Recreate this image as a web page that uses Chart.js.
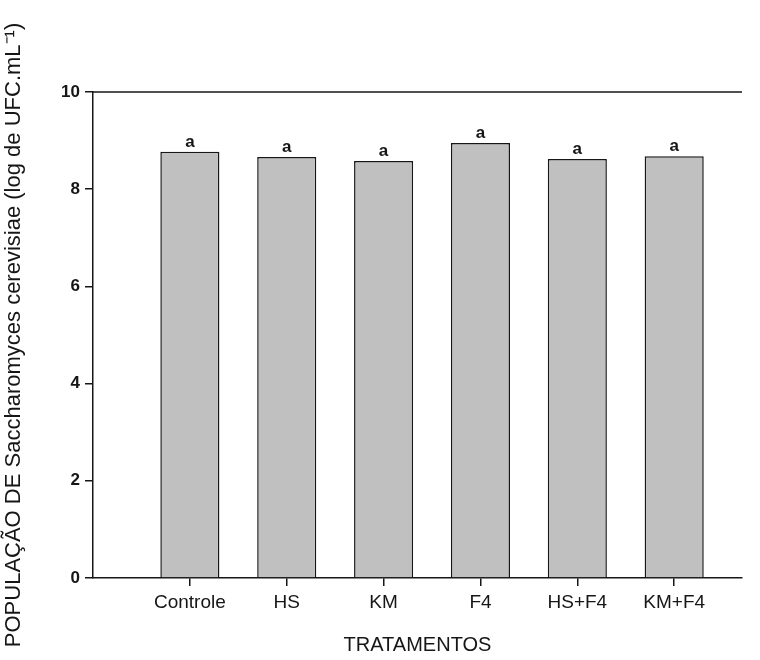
<!DOCTYPE html>
<html>
<head>
<meta charset="utf-8">
<script src="https://cdn.jsdelivr.net/npm/chart.js@4/dist/chart.umd.min.js"></script>
<style>
  html, body { margin: 0; padding: 0; background: #fff; }
  #wrap { width: 760px; height: 660px; }
</style>
</head>
<body>
<div id="wrap"><canvas id="c" width="760" height="660"></canvas></div>
<script>
const categories = ['Controle', 'HS', 'KM', 'F4', 'HS+F4', 'KM+F4'];
const values = [8.77, 8.66, 8.58, 8.95, 8.62, 8.68];
const letters = ['a', 'a', 'a', 'a', 'a', 'a'];
const yTicks = [0, 2, 4, 6, 8, 10];

const FONT = "'Liberation Sans', Arial, Helvetica, sans-serif";
const INK = '#161616';

const points = categories.map((c, i) => ({ x: i + 1, y: values[i] }));

const topBorder = {
  id: 'topBorder',
  afterDraw(chart) {
    const { ctx, chartArea } = chart;
    ctx.save();
    ctx.strokeStyle = INK;
    ctx.lineWidth = 1.5;
    ctx.beginPath();
    ctx.moveTo(chartArea.left, chartArea.top);
    ctx.lineTo(chartArea.right, chartArea.top);
    ctx.stroke();
    ctx.restore();
  }
};

const letterLabels = {
  id: 'letterLabels',
  afterDatasetsDraw(chart) {
    const { ctx } = chart;
    const meta = chart.getDatasetMeta(0);
    ctx.save();
    ctx.fillStyle = INK;
    ctx.font = 'bold 17px ' + FONT;
    ctx.textAlign = 'center';
    ctx.textBaseline = 'bottom';
    meta.data.forEach((el, i) => {
      ctx.fillText(letters[i], el.x, el.y - 1);
    });
    ctx.restore();
  }
};

new Chart(document.getElementById('c'), {
  type: 'bar',
  data: {
    datasets: [{
      data: points,
      backgroundColor: '#c0c0c0',
      borderColor: INK,
      borderWidth: 1.5,
      barPercentage: 0.61,
      categoryPercentage: 1.0
    }]
  },
  options: {
    responsive: false,
    animation: false,
    devicePixelRatio: 1,
    layout: { padding: { left: 0, right: 18, top: 92, bottom: 0 } },
    plugins: { legend: { display: false }, tooltip: { enabled: false } },
    scales: {
      x: {
        type: 'linear',
        offset: false,
        min: 0,
        max: 6.7,
        afterBuildTicks(scale) {
          scale.ticks = categories.map((c, i) => ({ value: i + 1 }));
        },
        afterFit(scale) { scale.height = 82; },
        ticks: {
          includeBounds: false,
          autoSkip: false,
          maxRotation: 0,
          color: INK,
          font: { family: FONT, size: 19 },
          padding: 5,
          callback: (v) => categories[Math.round(v) - 1] || ''
        },
        grid: {
          display: true,
          offset: false,
          drawOnChartArea: false,
          drawTicks: true,
          tickLength: 8,
          color: INK,
          lineWidth: 1.5
        },
        border: { display: true, color: INK, width: 1.5 },
        title: {
          display: true,
          text: 'TRATAMENTOS',
          color: INK,
          font: { family: FONT, size: 20 },
          padding: { top: 0, bottom: 3 }
        }
      },
      y: {
        type: 'linear',
        min: 0,
        max: 10,
        afterBuildTicks(scale) {
          scale.ticks = yTicks.map(v => ({ value: v }));
        },
        afterFit(scale) { scale.width = 93; },
        ticks: {
          color: INK,
          font: { family: FONT, size: 17, weight: 'bold' },
          padding: 5
        },
        grid: {
          display: true,
          drawOnChartArea: false,
          drawTicks: true,
          tickLength: 8,
          color: INK,
          lineWidth: 1.5
        },
        border: { display: true, color: INK, width: 1.5 },
        title: {
          display: true,
          text: 'POPULAÇÃO DE Saccharomyces cerevisiae (log de UFC.mL\u207B\u00B9)',
          color: INK,
          font: { family: FONT, size: 22 },
          padding: { top: 1, bottom: 0 }
        }
      }
    }
  },
  plugins: [topBorder, letterLabels]
});
</script>
</body>
</html>
